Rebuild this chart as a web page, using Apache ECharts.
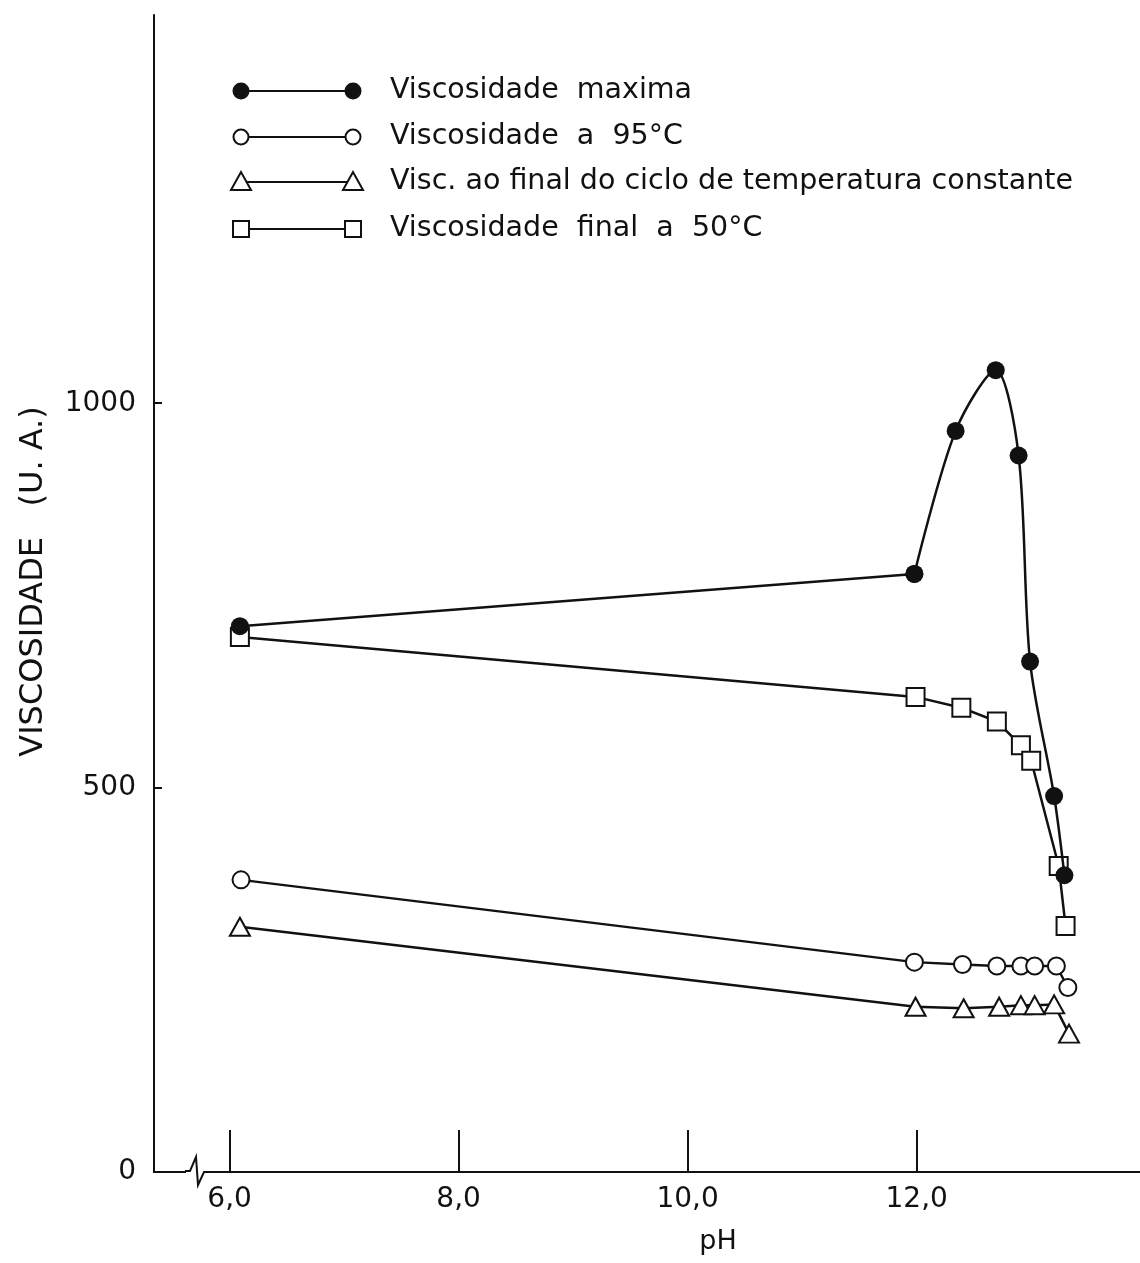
<!DOCTYPE html>
<html>
<head>
<meta charset="utf-8">
<script src="https://cdn.jsdelivr.net/npm/echarts@6/dist/echarts.min.js"></script>
<style>
  html, body { margin: 0; padding: 0; background: #fff; }
  #chart { width: 1140px; height: 1263px; }
</style>
</head>
<body>
<div id="chart"></div>
<script>
// pH values and viscosities (U. A.)
const phMax = [6.09, 11.98, 12.34, 12.69, 12.89, 12.99, 13.20, 13.29];
const viscMax = [710, 778, 964, 1043, 932, 664, 489, 386];

const ph95 = [6.10, 11.98, 12.40, 12.70, 12.91, 13.03, 13.22, 13.32];
const visc95 = [380, 273, 270, 268, 268, 268, 268, 240];

const phCycle = [6.09, 11.99, 12.41, 12.72, 12.91, 13.03, 13.20, 13.33];
const viscCycle = [319, 215, 213, 215, 217, 217, 218, 180];

const phFinal = [6.09, 11.99, 12.39, 12.70, 12.91, 13.00, 13.24, 13.30];
const viscFinal = [696, 618, 604, 586, 555, 535, 398, 320];

const xTicks = [6, 8, 10, 12];
const yTicks = [0, 500, 1000];

const legendNames = [
    'Viscosidade  maxima',
    'Viscosidade  a  95°C',
    'Visc. ao final do ciclo de temperatura constante',
    'Viscosidade  final  a  50°C'
];

const font = 'DejaVu Sans';
const ink = '#111';

function pairs(xs, ys) {
    return xs.map((x, i) => [x, ys[i]]);
}

let chart = echarts.init(document.getElementById('chart'));

// hand-drawn style legend: symbol - line - symbol, then the label
function legendRow(i, y) {
    const x1 = 241, x2 = 353;
    const kids = [{
        type: 'line',
        shape: { x1: x1, y1: y, x2: x2, y2: y },
        style: { stroke: ink, lineWidth: 2 }
    }];
    [x1, x2].forEach(x => {
        if (i === 0) {
            kids.push({ type: 'circle', shape: { cx: x, cy: y, r: 8.5 }, style: { fill: ink } });
        } else if (i === 1) {
            kids.push({ type: 'circle', shape: { cx: x, cy: y, r: 7.5 }, style: { fill: '#fff', stroke: ink, lineWidth: 2 } });
        } else if (i === 2) {
            kids.push({ type: 'polygon', shape: { points: [[x, y - 10], [x - 10, y + 8], [x + 10, y + 8]] }, style: { fill: '#fff', stroke: ink, lineWidth: 2 } });
        } else {
            kids.push({ type: 'rect', shape: { x: x - 8, y: y - 8, width: 16, height: 16 }, style: { fill: '#fff', stroke: ink, lineWidth: 2 } });
        }
    });
    kids.push({
        type: 'text',
        x: 390, y: y,
        style: {
            text: legendNames[i], fill: ink, font: '28.5px "' + font + '"',
            verticalAlign: 'middle', align: 'left'
        }
    });
    return kids;
}

let legendKids = [];
[91, 137, 182, 229].forEach((y, i) => { legendKids = legendKids.concat(legendRow(i, y)); });

// axis break zigzag near the origin
const breakMark = [
    { type: 'rect', shape: { x: 186, y: 1166, width: 20, height: 8 }, style: { fill: '#fff' }, z: 10 },
    {
        type: 'polyline',
        shape: { points: [[185, 1171], [190, 1171], [196, 1157], [198, 1185], [204, 1172], [208, 1172]] },
        style: { stroke: ink, lineWidth: 2, fill: null }, z: 11
    }
];

const symBorder = { color: '#fff', borderColor: ink, borderWidth: 2 };
const maxData = pairs(phMax, viscMax);

let option = {
    backgroundColor: '#fff',
    animation: false,
    grid: { left: 154, right: 0, top: 15, bottom: 91 },
    xAxis: {
        type: 'value',
        min: 5.34,
        max: 13.95,
        name: 'pH',
        nameLocation: 'middle',
        nameGap: 56,
        nameTextStyle: { fontFamily: font, fontSize: 27, color: ink, padding: [0, 0, 0, 142] },
        axisLine: { lineStyle: { color: ink, width: 2 } },
        axisTick: { inside: true, length: 42, lineStyle: { color: ink, width: 2 }, customValues: xTicks },
        axisLabel: {
            customValues: xTicks,
            fontFamily: font, fontSize: 28, color: ink, margin: 14,
            formatter: v => v.toFixed(1).replace('.', ',')
        },
        splitLine: { show: false }
    },
    yAxis: {
        type: 'value',
        min: 0,
        max: 1505,
        name: 'VISCOSIDADE   (U. A.)',
        nameLocation: 'middle',
        nameRotate: 90,
        nameGap: 104,
        nameTextStyle: { fontFamily: font, fontSize: 32, color: ink, padding: [0, 0, 0, 24] },
        axisLine: { show: true, lineStyle: { color: ink, width: 2 } },
        axisTick: { inside: true, length: 8, lineStyle: { color: ink, width: 2 }, customValues: yTicks },
        axisLabel: {
            customValues: yTicks,
            fontFamily: font, fontSize: 28, color: ink, margin: 18,
            formatter: v => String(v)
        },
        splitLine: { show: false }
    },
    series: [
        {
            // straight stretch of the maximum-viscosity curve
            name: legendNames[0],
            type: 'line',
            data: maxData.slice(0, 2),
            symbol: 'circle',
            symbolSize: 18,
            itemStyle: { color: ink },
            lineStyle: { color: ink, width: 2.5 },
            z: 5
        },
        {
            // curved stretch around the peak
            name: legendNames[0],
            type: 'line',
            data: maxData.slice(1),
            smooth: 0.3,
            symbol: 'circle',
            symbolSize: 18,
            itemStyle: { color: ink },
            lineStyle: { color: ink, width: 2.5 },
            z: 5
        },
        {
            name: legendNames[1],
            type: 'line',
            data: pairs(ph95, visc95),
            symbol: 'circle',
            symbolSize: 17,
            itemStyle: symBorder,
            lineStyle: { color: ink, width: 2.5 },
            z: 3
        },
        {
            name: legendNames[2],
            type: 'line',
            data: pairs(phCycle, viscCycle),
            symbol: 'triangle',
            symbolSize: [20, 18],
            itemStyle: symBorder,
            lineStyle: { color: ink, width: 2.5 },
            z: 3
        },
        {
            name: legendNames[3],
            type: 'line',
            data: pairs(phFinal, viscFinal),
            symbol: 'rect',
            symbolSize: 18,
            itemStyle: symBorder,
            lineStyle: { color: ink, width: 2.5 },
            z: 4
        }
    ],
    graphic: legendKids.concat(breakMark)
};

chart.setOption(option);
</script>
</body>
</html>
